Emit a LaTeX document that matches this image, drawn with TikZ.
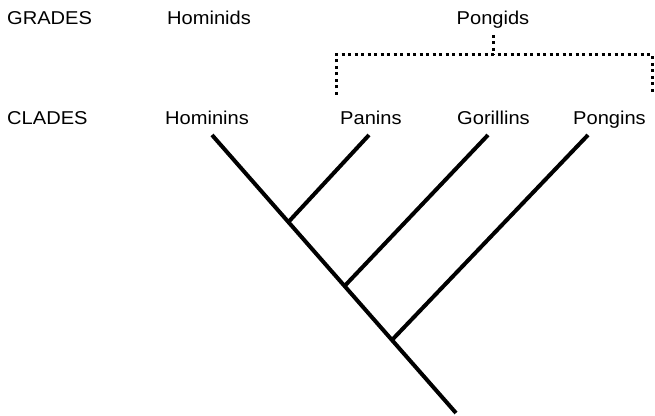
\documentclass[tikz,border=0pt]{standalone}
\usepackage{fontspec}
\setmainfont[FakeStretch=1.08]{Liberation Sans}
\begin{document}
\begin{tikzpicture}[x=1pt,y=1pt,
  lbl/.style={inner sep=0pt, anchor=base west, font=\fontsize{18.6}{20}\selectfont},
  branch/.style={line width=4pt, black},
  dotline/.style={line width=3pt, dash pattern=on 3pt off 3.5pt}]
\useasboundingbox (0,0) rectangle (655,415);
% labels
\node[lbl] (grades) at (7,390) {GRADES};
\node[lbl] (hominids) at (167,390) {Hominids};
\node[lbl, anchor=base] (pongids) at (493,390) {Pongids};
\node[lbl] (clades) at (7,290.7) {CLADES};
\node[lbl] (hominins) at (165,290.7) {Hominins};
\node[lbl] (panins) at (340,290.7) {Panins};
\node[lbl] (gorillins) at (457,290.7) {Gorillins};
\node[lbl] (pongins) at (573,290.7) {Pongins};
% tree coordinates
\coordinate (hTop) at (212,280);
\coordinate (root) at (456,2);
\coordinate (pTop) at (369,280);
\coordinate (pJ) at (288.4,193);
\coordinate (gTop) at (488,280);
\coordinate (gJ) at (344.6,129);
\coordinate (oTop) at (588,280);
\coordinate (oJ) at (392,75);
\draw[branch] (hTop) -- (root);
\draw[branch] (pJ) -- (pTop);
\draw[branch] (gJ) -- (gTop);
\draw[branch] (oJ) -- (oTop);
% bracket
\coordinate (bTop) at (493,380);
\coordinate (bMid) at (493,360);
\coordinate (bL) at (336,360);
\coordinate (bLd) at (336,320);
\coordinate (bR) at (652,360);
\coordinate (bRd) at (652,320);
\draw[dotline] (bTop) -- (bMid);
\draw[dotline] (bLd) -- (bL) -- (bR) -- (bRd);
\end{tikzpicture}
\end{document}
